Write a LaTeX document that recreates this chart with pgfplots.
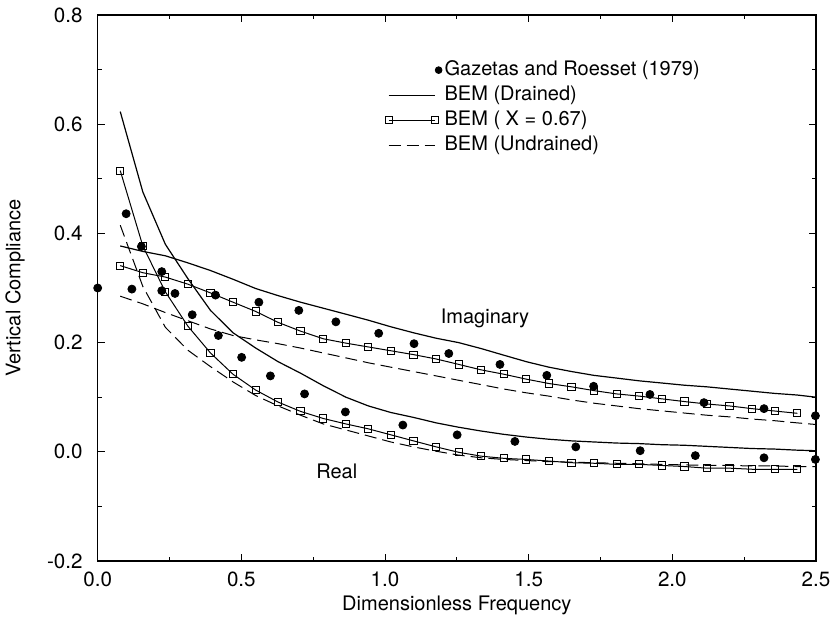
\documentclass[border=0pt]{standalone}
\usepackage{pgfplots}
\pgfplotsset{compat=1.18}
\usepackage{pgfplotstable}
\usepackage{fontspec}
\setmainfont{TeX Gyre Heros}

\pgfplotstableread{
x re im
0.0785 0.623 0.377
0.157 0.476 0.367
0.2355 0.380 0.359
0.314 0.317 0.346
0.3925 0.259 0.332
0.471 0.218 0.316
0.550 0.190 0.299
0.628 0.165 0.286
0.706 0.144 0.274
0.785 0.121 0.263
0.864 0.100 0.252
0.942 0.084 0.241
1.020 0.072 0.229
1.099 0.063 0.218
1.178 0.053 0.208
1.256 0.045 0.200
1.335 0.038 0.189
1.413 0.032 0.177
1.492 0.027 0.165
1.570 0.023 0.155
1.649 0.020 0.147
1.727 0.018 0.140
1.806 0.016 0.135
1.884 0.015 0.130
1.963 0.013 0.126
2.041 0.012 0.122
2.120 0.010 0.119
2.198 0.008 0.115
2.277 0.006 0.111
2.355 0.005 0.107
2.434 0.003 0.104
2.500 0.002 0.100
}\drained

\pgfplotstableread{
x re im
0.0785 0.415 0.285
0.157 0.303 0.271
0.2355 0.228 0.255
0.314 0.186 0.240
0.3925 0.156 0.225
0.471 0.128 0.213
0.550 0.103 0.205
0.628 0.084 0.198
0.706 0.067 0.190
0.785 0.051 0.181
0.864 0.040 0.172
0.942 0.029 0.163
1.020 0.018 0.155
1.099 0.009 0.147
1.178 0.001 0.139
1.256 -0.006 0.131
1.335 -0.011 0.123
1.413 -0.014 0.115
1.492 -0.016 0.108
1.570 -0.018 0.102
1.649 -0.019 0.095
1.727 -0.020 0.089
1.806 -0.021 0.084
1.884 -0.022 0.079
1.963 -0.023 0.075
2.041 -0.024 0.071
2.120 -0.025 0.067
2.198 -0.025 0.064
2.277 -0.026 0.060
2.355 -0.026 0.057
2.434 -0.027 0.053
2.500 -0.027 0.050
}\undrained

\pgfplotstableread{
x re im
0.0785 0.515 0.341
0.157 0.377 0.328
0.2355 0.293 0.320
0.314 0.230 0.307
0.3925 0.181 0.291
0.471 0.142 0.274
0.550 0.113 0.257
0.628 0.091 0.237
0.706 0.074 0.221
0.785 0.061 0.207
0.864 0.051 0.199
0.942 0.042 0.192
1.021 0.031 0.185
1.099 0.020 0.178
1.178 0.009 0.170
1.257 -0.001 0.160
1.335 -0.008 0.150
1.414 -0.012 0.142
1.492 -0.014 0.133
1.571 -0.017 0.125
1.649 -0.020 0.119
1.728 -0.021 0.112
1.806 -0.023 0.106
1.885 -0.023 0.102
1.963 -0.025 0.097
2.042 -0.027 0.092
2.121 -0.030 0.0875
2.199 -0.030 0.084
2.278 -0.032 0.079
2.356 -0.032 0.0747
2.435 -0.032 0.0705
}\mixed

\pgfplotstableread{
x y
0.000 0.300
0.099 0.436
0.119 0.298
0.152 0.376
0.223 0.330
0.223 0.295
0.269 0.290
0.329 0.251
0.410 0.287
0.420 0.213
0.501 0.173
0.561 0.274
0.601 0.139
0.700 0.259
0.720 0.106
0.829 0.238
0.862 0.073
0.978 0.217
1.062 0.049
1.101 0.198
1.222 0.180
1.251 0.031
1.400 0.160
1.452 0.019
1.563 0.140
1.664 0.009
1.726 0.120
1.888 0.002
1.922 0.105
2.080 -0.007
2.110 0.090
2.319 0.079
2.319 -0.011
2.498 0.066
2.498 -0.014
}\gazetas

\begin{document}
\begin{tikzpicture}
\begin{axis}[
  scale only axis, width=359.15pt, height=273pt,
  xmin=0, xmax=2.5, ymin=-0.2, ymax=0.8,
  xtick={0,0.5,1,1.5,2,2.5},
  ytick={-0.2,0,0.2,0.4,0.6,0.8},
  minor x tick num=1, minor y tick num=1,
  tick align=inside, major tick length=3.5pt, minor tick length=2pt,
  axis line style={line width=0.8pt},
  every tick/.style={black, line width=0.5pt},
  /pgf/number format/assume math mode=true,
  /pgf/number format/fixed,
  /pgf/number format/fixed zerofill,
  /pgf/number format/precision=1,
  xticklabel style={yshift=-2pt},
  yticklabel style={xshift=-4pt},
  tick label style={font=\fontsize{10.3}{12}\selectfont},
  label style={font=\fontsize{10}{12}\selectfont},
  xlabel={Dimensionless Frequency},
  ylabel={Vertical Compliance},
  xlabel style={at={(axis description cs:0.5,-0.0806)}, anchor=center},
  ylabel style={at={(axis description cs:-0.1151,0.5)}, anchor=center},
  clip=false,
  legend cell align=left,
  legend style={draw=none, fill=none, at={(axis cs:1.0,0.721)}, anchor=north west,
    inner sep=0pt, outer sep=0pt, row sep=0.5pt,
    font=\fontsize{10}{12}\selectfont,
    nodes={inner sep=1pt, text height=7.5pt, text depth=2.5pt}},
]
\addplot[only marks, mark=*, mark size=2pt, black,
  legend image code/.code={\path[draw=none] (0pt,0pt) -- (27pt,0pt); \draw[mark size=1.7pt] plot coordinates {(25pt,0pt)};}]
  table[x=x,y=y] {\gazetas};
\addlegendentry{Gazetas and Roesset (1979)}

\addplot[black, line width=0.6pt,
  legend image code/.code={\path[draw=none] (0pt,0pt) -- (27pt,0pt); \draw (0pt,0pt) -- (23pt,0pt);}]
  table[x=x,y=re] {\drained};
\addlegendentry{BEM (Drained)}

\addplot[black, line width=0.5pt, mark=square, mark size=1.8pt, mark options={solid, fill=white},
  legend image code/.code={\path[draw=none] (0pt,0pt) -- (27pt,0pt); \draw[mark repeat=1] plot coordinates {(0pt,0pt) (23pt,0pt)};}]
  table[x=x,y=re] {\mixed};
\addlegendentry{BEM ( X = 0.67)}

\addplot[black, line width=0.5pt, dash pattern=on 6pt off 3pt,
  legend image code/.code={\path[draw=none] (0pt,0pt) -- (27pt,0pt); \draw (0pt,0pt) -- (23pt,0pt);}]
  table[x=x,y=re] {\undrained};
\addlegendentry{BEM (Undrained)}

\addplot[black, line width=0.6pt, forget plot] table[x=x,y=im] {\drained};
\addplot[black, line width=0.5pt, mark=square, mark size=1.8pt, mark options={solid, fill=white}, forget plot]
  table[x=x,y=im] {\mixed};
\addplot[black, line width=0.5pt, dash pattern=on 6pt off 3pt, forget plot]
  table[x=x,y=im] {\undrained};

\node[font=\fontsize{10}{12}\selectfont] at (axis cs:1.348,0.2445) {Imaginary};
\node[font=\fontsize{10}{12}\selectfont] at (axis cs:0.832,-0.036) {Real};
\end{axis}
\pgfresetboundingbox
\path[use as bounding box] (current axis.south west) ++(-48.85pt,-29pt) rectangle ([shift={(9pt,7.5pt)}]current axis.north east);
\end{tikzpicture}
\end{document}
